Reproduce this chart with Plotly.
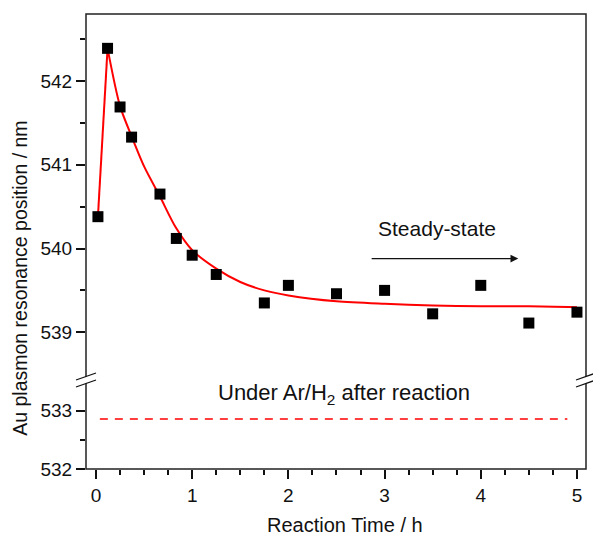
import plotly.graph_objects as go

# ---- data ----
time_h = [0.02, 0.12, 0.25, 0.37, 0.665, 0.835, 1.0, 1.25, 1.75, 2.0, 2.5, 3.0, 3.5, 4.0, 4.5, 5.0]
resonance_nm = [540.38, 542.39, 541.69, 541.33, 540.65, 540.12, 539.92, 539.69, 539.35, 539.56,
                539.46, 539.50, 539.22, 539.56, 539.11, 539.24]

fit_time_h = [0.02, 0.12, 0.25, 0.37, 0.5, 0.665, 0.83, 1.0, 1.25, 1.5, 1.75, 2.0, 2.5, 3.0,
              3.5, 4.0, 4.5, 5.0]
fit_nm = [540.38, 542.39, 541.70, 541.34, 540.98, 540.62, 540.25, 539.98, 539.76, 539.60,
          539.50, 539.44, 539.37, 539.34, 539.32, 539.31, 539.31, 539.30]

ar_h2_time_h = [0.04, 4.9]
ar_h2_nm = [532.86, 532.86]

x_ticks = [0, 1, 2, 3, 4, 5]
upper_ticks = [539, 540, 541, 542]
lower_ticks = [532, 533]

FONT = "Arial, Liberation Sans, sans-serif"
BREAK = 0.1956

fig = go.Figure()

# rise segment of the fit (straight)
fig.add_trace(go.Scatter(x=fit_time_h[:2], y=fit_nm[:2], mode="lines",
                         line=dict(color="#ff0000", width=2), xaxis="x", yaxis="y",
                         showlegend=False, hoverinfo="skip"))
# decay segment of the fit
fig.add_trace(go.Scatter(x=fit_time_h[1:], y=fit_nm[1:], mode="lines",
                         line=dict(color="#ff0000", width=2, shape="spline", smoothing=0.8),
                         xaxis="x", yaxis="y", showlegend=False, hoverinfo="skip"))
# measured points
fig.add_trace(go.Scatter(x=time_h, y=resonance_nm, mode="markers",
                         marker=dict(symbol="square", size=11, color="black"),
                         xaxis="x", yaxis="y", showlegend=False))
# Ar/H2 level
fig.add_trace(go.Scatter(x=ar_h2_time_h, y=ar_h2_nm, mode="lines",
                         line=dict(color="#ff0000", width=1.6, dash="8px,7px"),
                         xaxis="x", yaxis="y2", showlegend=False))

tickfont = dict(family=FONT, size=19, color="#111")

fig.update_layout(
    width=593, height=535,
    margin=dict(l=86, r=7, t=14, b=66),
    plot_bgcolor="white", paper_bgcolor="white",
    xaxis=dict(domain=[0, 1], range=[-0.104, 5.094], anchor="y2",
               tickvals=x_ticks, ticks="outside", ticklen=9, tickwidth=1.5, tickcolor="#111",
               minor=dict(dtick=0.25, tick0=0, ticks="outside", ticklen=5, tickwidth=1.5,
                          tickcolor="#111"),
               showgrid=False, zeroline=False, showline=False, tickfont=tickfont),
    yaxis=dict(domain=[BREAK, 1], range=[538.43, 542.80], anchor="x",
               tickvals=upper_ticks, ticks="outside", ticklen=9, tickwidth=1.5, tickcolor="#111",
               minor=dict(tickvals=[539.5, 540.5, 541.5, 542.5], ticks="outside", ticklen=5,
                          tickwidth=1.5, tickcolor="#111"),
               showgrid=False, zeroline=False, showline=False, tickfont=tickfont),
    yaxis2=dict(domain=[0, BREAK], range=[532, 533.53], anchor="x",
                tickvals=lower_ticks, ticks="outside", ticklen=9, tickwidth=1.5, tickcolor="#111",
                minor=dict(tickvals=[532.5], ticks="outside", ticklen=5,
                           tickwidth=1.5, tickcolor="#111"),
                showgrid=False, zeroline=False, showline=False, tickfont=tickfont),
)

# frame
fig.add_shape(type="rect", xref="paper", yref="paper", x0=0, x1=1, y0=0, y1=1,
              line=dict(color="#222", width=1.5), layer="above")

# axis break marks
for xa in (0, 1):
    fig.add_shape(type="line", xref="paper", yref="paper", xsizemode="pixel", ysizemode="pixel",
                  xanchor=xa, yanchor=BREAK, x0=-10, x1=10, y0=-3.5, y1=3.5,
                  line=dict(color="white", width=6), layer="above")
    for dy in (3.5, -3.5):
        fig.add_shape(type="line", xref="paper", yref="paper", xsizemode="pixel",
                      ysizemode="pixel", xanchor=xa, yanchor=BREAK,
                      x0=-10, x1=10, y0=-3.5 + dy, y1=3.5 + dy,
                      line=dict(color="#111", width=1.3), layer="above")

annfont = dict(family=FONT, size=21, color="#111")

# steady-state arrow
fig.add_annotation(x=4.39, y=539.88, xref="x", yref="y", ax=2.85, ay=539.88,
                   axref="x", ayref="y", text="", showarrow=True, arrowhead=2,
                   arrowsize=1.3, arrowwidth=1.2, arrowcolor="#111")
fig.add_annotation(x=3.545, y=540.24, xref="x", yref="y", text="Steady-state",
                   showarrow=False, font=annfont, xanchor="center", yanchor="middle")
fig.add_annotation(x=2.58, y=533.29, xref="x", yref="y2",
                   text="Under Ar/H<sub>2</sub> after reaction",
                   showarrow=False, font=dict(family=FONT, size=22, color="#111"),
                   xanchor="center", yanchor="middle")

# axis titles
fig.add_annotation(x=0.518, y=-0.123, xref="paper", yref="paper", text="Reaction Time / h",
                   showarrow=False, font=dict(family=FONT, size=20, color="#111"),
                   xanchor="center", yanchor="middle")
fig.add_annotation(x=-0.132, y=0.418, xref="paper", yref="paper",
                   text="Au plasmon resonance position / nm", textangle=-90,
                   showarrow=False, font=dict(family=FONT, size=19.5, color="#111"),
                   xanchor="center", yanchor="middle")

fig.write_html("out.html", config={"displayModeBar": False},
               post_script="document.body.style.margin='0';")
